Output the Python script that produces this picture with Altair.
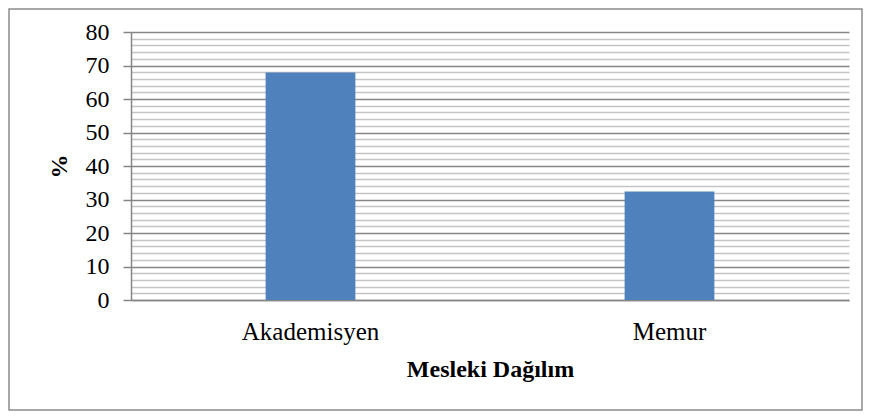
import altair as alt
import pandas as pd

categories = ["Akademisyen", "Memur"]
values = [67.9, 32.4]
y_ticks = list(range(0, 81, 2))

df = pd.DataFrame({"cat": categories, "value": values})

FONT = "'Liberation Serif', 'Times New Roman', Times, serif"
major = "datum.value % 10 === 0"

bars = alt.Chart(df).mark_bar(color="#4f81bd").encode(
    x=alt.X(
        "cat:N",
        sort=categories,
        scale=alt.Scale(paddingInner=0.75, paddingOuter=0.375),
        axis=alt.Axis(
            title="Mesleki Dağılım",
            labelAngle=0,
            labelFontSize=25,
            labelColor="#000000",
            labelPadding=19,
            ticks=False,
            tickSize=0,
            domainColor="#868686",
            domainWidth=1.5,
            titleFontSize=24,
            titleFontWeight="bold",
            titleColor="#000000",
            titlePadding=13,
        ),
    ),
    y=alt.Y(
        "value:Q",
        scale=alt.Scale(domain=[0, 80], nice=False),
        axis=alt.Axis(
            title="%",
            values=y_ticks,
            labelExpr=f"{major} ? datum.label : ''",
            labelFontSize=24,
            labelColor="#000000",
            labelPadding=14,
            tickSize=8,
            tickColor="#868686",
            tickWidth=1.5,
            tickOpacity={"condition": {"test": major, "value": 1}, "value": 0},
            grid=True,
            gridColor={"condition": {"test": major, "value": "#868686"}, "value": "#c4c4c4"},
            gridWidth=1.6,
            domainColor="#868686",
            domainWidth=1.5,
            titleFontSize=24,
            titleFontWeight="bold",
            titleColor="#000000",
            titlePadding=14,
        ),
    ),
)

frame = alt.Chart(alt.Data(values=[{}])).mark_rect(
    fill="transparent", stroke="#8c8c8c", strokeWidth=1.5
).encode(
    x=alt.value(-122),
    x2=alt.value(731),
    y=alt.value(-23),
    y2=alt.value(378),
)

chart = alt.layer(frame, bars).properties(
    width=718,
    height=268,
    autosize=alt.AutoSizeParams(type="none"),
    padding={"left": 123, "top": 24, "right": 14, "bottom": 111},
    background="white",
).configure(font=FONT).configure_axis(
    labelFont=FONT, titleFont=FONT
).configure_view(stroke=None)

chart.save("out.html", embed_options={"renderer": "svg", "actions": False})
